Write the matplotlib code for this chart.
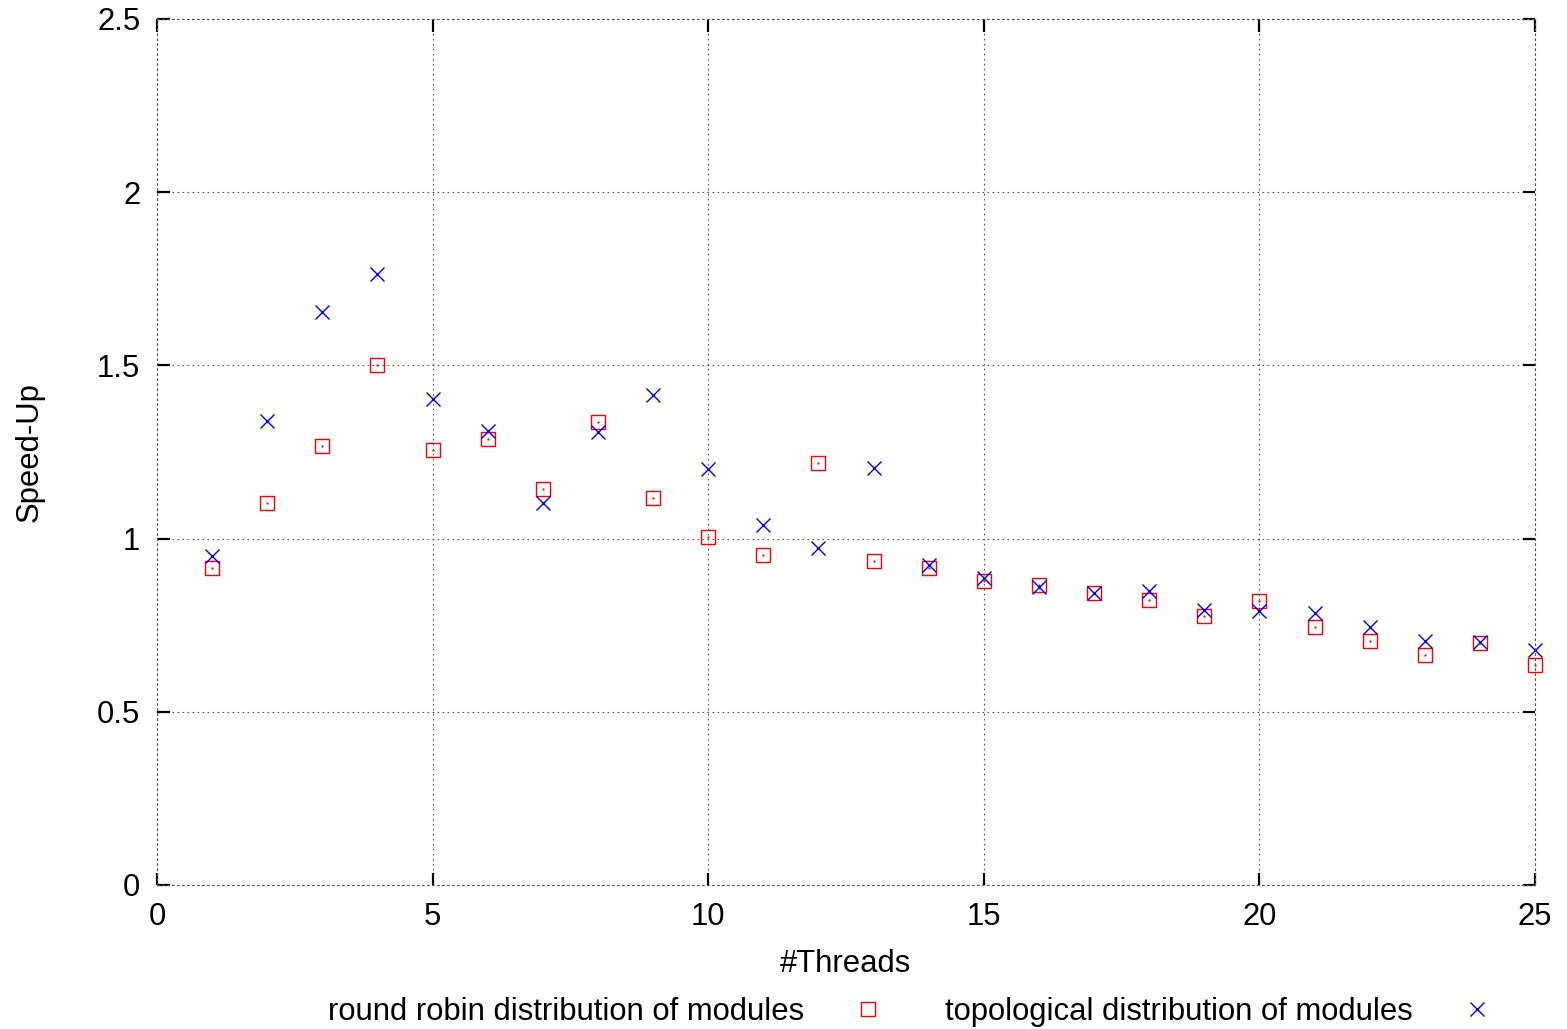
import numpy as np
from matplotlib import pyplot as plt

plt.rcParams['font.family'] = ['Liberation Sans', 'DejaVu Sans']

threads = np.arange(1, 26)
round_robin = [0.915, 1.103, 1.267, 1.501, 1.256, 1.288, 1.143, 1.337, 1.117, 1.005,
               0.953, 1.218, 0.935, 0.915, 0.878, 0.866, 0.843, 0.823, 0.777, 0.820,
               0.745, 0.704, 0.664, 0.699, 0.635]
topological = [0.950, 1.340, 1.654, 1.764, 1.403, 1.311, 1.103, 1.308, 1.415, 1.201,
               1.039, 0.973, 1.204, 0.924, 0.886, 0.860, 0.843, 0.849, 0.794, 0.791,
               0.785, 0.745, 0.704, 0.701, 0.678]

fs = 22.3

fig = plt.figure(figsize=(15.67, 10.29), dpi=100)
ax = fig.add_axes([157 / 1567, 1 - 885 / 1029, (1535 - 157) / 1567, (885 - 19) / 1029])

ax.plot(threads, round_robin, linestyle='none', marker='s', markersize=9.5,
        markerfacecolor='none', markeredgecolor='#ff0000', markeredgewidth=1.0,
        clip_on=False, label='round robin distribution of modules')
# gnuplot leaves a tiny dot in the middle of each square
ax.plot(threads, round_robin, linestyle='none', marker='.', markersize=1.2,
        color='#ff0000', clip_on=False)
ax.plot(threads, topological, linestyle='none', marker='x', markersize=10,
        color='#0000ff', markeredgewidth=1.0, clip_on=False,
        label='topological distribution of modules')

ax.set_xlim(0, 25)
ax.set_ylim(0, 2.5)
ax.set_xticks(np.arange(0, 26, 5))
ax.set_yticks(np.arange(0, 2.51, 0.5))
ax.set_yticklabels(['0', '0.5', '1', '1.5', '2', '2.5'])

ax.grid(True, linestyle=(0, (1.5, 3)), color='#555555', linewidth=0.8)
for s in ax.spines.values():
    s.set_linestyle((0, (1.5, 3)))
    s.set_color('#555555')
    s.set_linewidth(0.8)

ax.tick_params(direction='in', length=9, width=1.6, labelsize=fs,
               top=True, right=True, pad=12)

ax.set_xlabel('#Threads', fontsize=fs)
ax.set_ylabel('Speed-Up', fontsize=fs)
ax.xaxis.set_label_coords((845 - 157) / 1378, (885 - 949) / 866)
ax.yaxis.set_label_coords((45 - 157) / 1378, (885 - 452) / 866)

handles, labels = ax.get_legend_handles_labels()
fig.legend(handles, labels, loc='center', bbox_to_anchor=(918 / 1567, 1 - 1012 / 1029),
           ncol=2, frameon=False, markerfirst=False, fontsize=fs,
           columnspacing=1.5, handletextpad=1.05, borderaxespad=0)

fig.savefig('out.png', dpi=100)
